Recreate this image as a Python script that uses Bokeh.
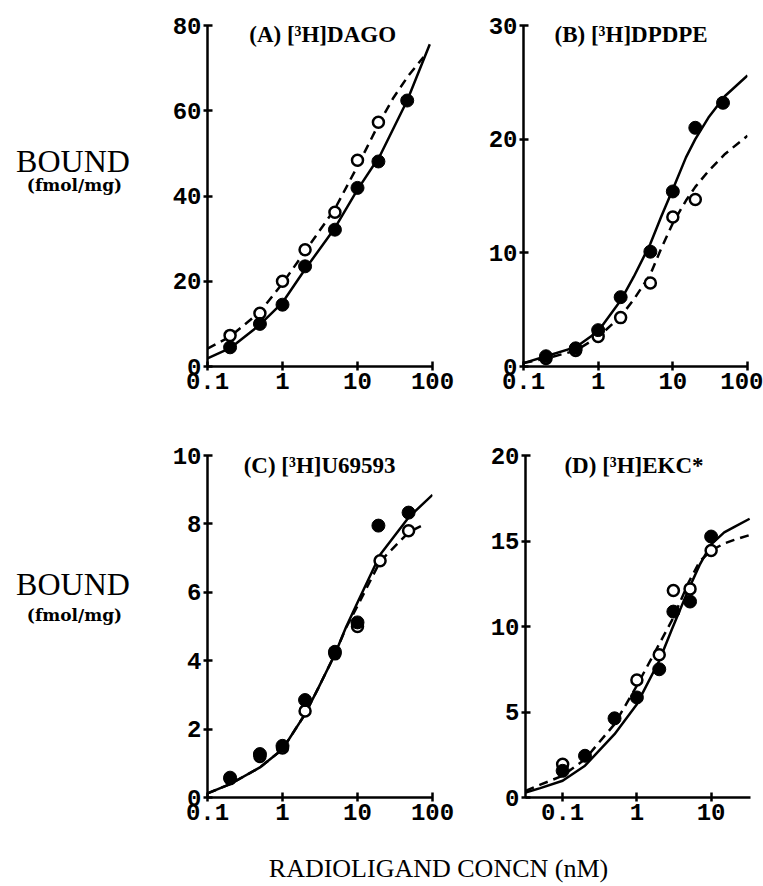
from bokeh.plotting import figure
from bokeh.layouts import column, row
from bokeh.models import Label, FixedTicker, Range1d, Plot
from bokeh.embed import file_html
from bokeh.resources import INLINE

# ---------------- data ----------------
# Panel A  [3H]DAGO
a_pts_x = [0.2, 0.5, 1, 2, 5, 10, 19, 46]
a_filled = [4.5, 10.0, 14.5, 23.5, 32.1, 41.9, 48.1, 62.4]
a_open_x = [0.2, 0.5, 1, 2, 5, 10, 19]
a_open = [7.3, 12.5, 20.0, 27.4, 36.2, 48.4, 57.3]
a_solid_x = [0.1, 0.2, 0.5, 1, 2, 5, 10, 20, 46, 92]
a_solid = [1.9, 4.3, 9.8, 15.0, 22.8, 32.5, 41.5, 49.5, 62.4, 75.6]
a_dash_x = [0.1, 0.2, 0.5, 1, 2, 5, 10, 20, 30, 48, 76]
a_dash = [4.2, 7.0, 12.8, 19.5, 27.0, 37.0, 47.0, 57.5, 63.0, 68.3, 72.6]

# Panel B  [3H]DPDPE
b_pts_x = [0.2, 0.5, 1, 2, 5, 10, 20, 47]
b_filled = [0.9, 1.6, 3.2, 6.1, 10.1, 15.4, 21.0, 23.2]
b_open_x = [0.2, 0.5, 1, 2, 5, 10, 20]
b_open = [0.7, 1.4, 2.65, 4.3, 7.35, 13.15, 14.7]
b_line_x = [0.1, 0.2, 0.5, 1, 2, 3, 5, 7, 10, 15, 20, 30, 50, 100]
b_solid = [0.3, 0.9, 1.7, 3.1, 5.8, 7.9, 10.8, 13.2, 15.6, 18.4, 20.0, 21.9, 23.8, 25.6]
b_dash = [0.3, 0.7, 1.4, 2.6, 4.4, 5.9, 8.1, 10.4, 12.6, 14.6, 15.8, 17.2, 18.7, 20.3]

# Panel C  [3H]U69593
c_pts_x = [0.2, 0.5, 1, 2, 5, 10, 19, 48]
c_filled = [0.58, 1.27, 1.51, 2.85, 4.26, 5.12, 7.95, 8.33]
c_open_x = [0.2, 0.5, 1, 2, 5, 10, 20, 48]
c_open = [0.55, 1.2, 1.45, 2.53, 4.2, 5.0, 6.92, 7.8]
c_solid_x = [0.1, 0.2, 0.5, 1, 2, 3, 5, 7, 10, 20, 48, 100]
c_solid = [0.12, 0.39, 0.88, 1.41, 2.44, 3.2, 4.19, 4.97, 5.7, 7.1, 8.19, 8.85]
c_dash_x = [0.1, 0.2, 0.5, 1, 2, 3, 5, 7, 10, 20, 48, 72]
c_dash = [0.12, 0.39, 0.88, 1.41, 2.44, 3.2, 4.19, 4.95, 5.6, 6.9, 7.75, 7.95]

# Panel D  [3H]EKC*
d_pts_x = [0.1, 0.2, 0.5, 1, 2, 3.1, 5.2, 10]
d_filled = [1.56, 2.44, 4.63, 5.85, 7.5, 10.87, 11.46, 15.26]
d_open_x = [0.1, 1, 2, 3.1, 5.2, 10]
d_open = [1.95, 6.87, 8.35, 12.1, 12.2, 14.44]
d_line_x = [0.0316, 0.05, 0.1, 0.2, 0.5, 1, 2, 3, 5, 7, 10, 15, 20, 33]
d_solid = [0.29, 0.55, 0.98, 1.86, 3.7, 5.46, 8.0, 9.9, 12.2, 13.6, 14.8, 15.5, 15.8, 16.3]
d_dash = [0.39, 0.75, 1.27, 2.24, 4.29, 6.54, 8.98, 10.4, 12.6, 13.8, 14.45, 14.85, 15.05, 15.35]

# ticks
x_ticks_abc = [0.1, 1, 10, 100]
x_labels_abc = ["0.1", "1", "10", "100"]
x_ticks_d = [0.1, 1, 10]
x_labels_d = ["0.1", "1", "10"]
a_yticks = [0, 20, 40, 60, 80]
b_yticks = [0, 10, 20, 30]
c_yticks = [0, 2, 4, 6, 8, 10]
d_yticks = [0, 5, 10, 15, 20]

titles = ["(A)  [\u00b3H]DAGO", "(B)  [\u00b3H]DPDPE", "(C)  [\u00b3H]U69593", "(D)  [\u00b3H]EKC*"]
y_label = "BOUND"
y_unit = "(fmol/mg)"
x_label = "RADIOLIGAND CONCN (nM)"

MONO = "Liberation Mono"
SERIF = "Liberation Serif"


def panel(width, height, bl, br, bt, bb, xr, yr, xt, xl, yt):
    p = figure(width=width, height=height, x_axis_type="log",
               x_range=Range1d(*xr), y_range=Range1d(*yr),
               toolbar_location=None, output_backend="svg", title=None,
               min_border_left=bl, min_border_right=br,
               min_border_top=bt, min_border_bottom=bb)
    p.xgrid.visible = False
    p.ygrid.visible = False
    p.outline_line_color = None
    p.background_fill_color = "white"
    p.border_fill_color = "white"
    p.xaxis.ticker = FixedTicker(ticks=xt, minor_ticks=[])
    p.xaxis.major_label_overrides = {t: l for t, l in zip(xt, xl)}
    p.yaxis.ticker = FixedTicker(ticks=yt, minor_ticks=[])
    for ax in (p.xaxis[0], p.yaxis[0]):
        ax.axis_line_width = 2.5
        ax.axis_line_color = "black"
        ax.major_tick_line_width = 2.5
        ax.major_tick_line_color = "black"
        ax.minor_tick_line_color = None
        ax.major_tick_in = 5
        ax.major_tick_out = 4
        ax.major_label_text_font = MONO
        ax.major_label_text_font_style = "bold"
        ax.major_label_text_font_size = "24px"
        ax.major_label_text_color = "black"
    p.xaxis.major_label_standoff = 2
    p.yaxis.major_label_standoff = 2
    return p


def blank(width, height):
    # a bare Plot has no axes, so its frame is the whole canvas
    p = Plot(width=width, height=height, x_range=Range1d(0, width),
             y_range=Range1d(0, height), toolbar_location=None, title=None,
             output_backend="svg", min_border_left=0, min_border_right=0,
             min_border_top=0, min_border_bottom=0, outline_line_color=None)
    return p


def draw(p, sx, sy, dx, dy, ox, oy, fx, fy):
    p.line(sx, sy, line_color="black", line_width=2.5, line_join="round")
    p.line(dx, dy, line_color="black", line_width=2.5, line_dash="9 6")
    p.scatter(ox, oy, marker="circle", size=11, fill_color="white",
              line_color="black", line_width=2.5)
    p.scatter(fx, fy, marker="circle", size=13, fill_color="black",
              line_color="black")


def title(p, text, x, y, xoff):
    p.add_layout(Label(x=x, y=y, x_offset=xoff, text=text, text_align="center",
                       text_baseline="middle", text_font=SERIF,
                       text_font_style="bold", text_font_size="23px",
                       text_color="black"))


def side_labels(p, y1, y2):
    p.add_layout(Label(x=72.5, y=y1, text=y_label,
                       text_align="center", text_baseline="middle",
                       text_font=SERIF, text_font_size="32px", text_color="black"))
    p.add_layout(Label(x=74, y=y2, text=y_unit,
                       text_align="center", text_baseline="middle",
                       text_font="DejaVu Serif", text_font_style="bold",
                       text_font_size="17px", text_color="black"))


# row 1 (height 430)
la = blank(140, 430)
side_labels(la, 430 - 171, 430 - 201)

pa = panel(330, 430, 67, 38, 25, 64, (0.1, 100), (0, 80), x_ticks_abc, x_labels_abc, a_yticks)
draw(pa, a_solid_x, a_solid, a_dash_x, a_dash, a_open_x, a_open, a_pts_x, a_filled)
title(pa, titles[0], 3.1623, 77.8, 5.5)

pb = panel(293, 430, 53, 16, 25, 64, (0.1, 100), (0, 30), x_ticks_abc, x_labels_abc, b_yticks)
draw(pb, b_line_x, b_solid, b_line_x, b_dash, b_open_x, b_open, b_pts_x, b_filled)
title(pb, titles[1], 3.1623, 29.17, -1.5)

# row 2 (height 416)
lc = blank(140, 416)
side_labels(lc, 416 - 156, 416 - 194)

pc = panel(330, 416, 67, 38, 25, 49, (0.1, 100), (0, 10), x_ticks_abc, x_labels_abc, c_yticks)
draw(pc, c_solid_x, c_solid, c_dash_x, c_dash, c_open_x, c_open, c_pts_x, c_filled)
title(pc, titles[2], 3.1623, 9.72, 2.5)

pd_ = panel(293, 416, 55, 13, 25, 49, (0.0316, 33.9), (0, 20), x_ticks_d, x_labels_d, d_yticks)
draw(pd_, d_line_x, d_solid, d_line_x, d_dash, d_open_x, d_open, d_pts_x, d_filled)
title(pd_, titles[3], 1.0, 19.44, 0)

# bottom axis title (height 40)
pl = blank(763, 40)
pl.add_layout(Label(x=438, y=18, text=x_label, text_align="center",
                    text_baseline="middle", text_font=SERIF,
                    text_font_size="26px", text_color="black"))

layout = column(row(la, pa, pb), row(lc, pc, pd_), pl)
open("out.html", "w").write(file_html(layout, INLINE))
